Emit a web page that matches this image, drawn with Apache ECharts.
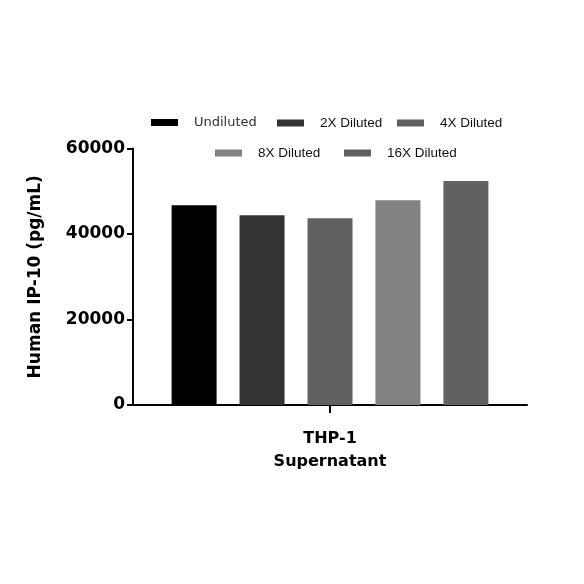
<!DOCTYPE html>
<html>
<head>
<meta charset="utf-8">
<script src="https://cdn.jsdelivr.net/npm/echarts@6/dist/echarts.min.js"></script>
<style>
  html, body { margin: 0; padding: 0; background: #fff; }
  #chart { width: 584px; height: 584px; }
</style>
</head>
<body>
<div id="chart"></div>
<script>
// data
var categories = ["THP-1\nSupernatant"];
var seriesNames = ["Undiluted", "2X Diluted", "4X Diluted", "8X Diluted", "16X Diluted"];
var seriesValues = [46700, 44400, 43700, 47900, 52400];
var seriesColors = ["#000000", "#333333", "#606060", "#828282", "#616161"];
var yTicks = [0, 20000, 40000, 60000];

// legend placement (swatch left, row centre)
var legendPos = [[151, 123], [277, 123], [397, 123], [215, 153], [344, 153]];

var myChart = echarts.init(document.getElementById("chart"));

var legends = seriesNames.map(function (name, i) {
  return {
    data: [name],
    left: legendPos[i][0],
    top: legendPos[i][1] - 7,
    padding: 0,
    itemWidth: 27,
    itemHeight: 7,
    icon: "rect",
    textStyle: {
      fontFamily: i === 0 ? "DejaVu Sans" : "Liberation Sans",
      fontSize: i === 0 ? 13 : 13.5,
      color: i === 0 ? "#333" : "#111",
      padding: i === 0 ? [2, 0, 0, 11] : [0, 0, 0, 11]
    }
  };
});

var series = seriesNames.map(function (name, i) {
  return {
    name: name,
    type: "bar",
    data: [seriesValues[i]],
    barWidth: 45,
    barGap: "51%",
    itemStyle: { color: seriesColors[i] }
  };
});

myChart.setOption({
  animation: false,
  legend: legends,
  grid: { left: 133, right: 57, top: 148.5, bottom: 179 },
  xAxis: {
    type: "category",
    data: categories,
    axisLine: { lineStyle: { color: "#000", width: 2 } },
    axisTick: { show: true, interval: 0, alignWithLabel: true, length: 8, lineStyle: { color: "#000", width: 2 } },
    axisLabel: {
      margin: 22,
      color: "#000",
      fontFamily: "DejaVu Sans",
      fontWeight: "bold",
      fontSize: 16,
      lineHeight: 23
    }
  },
  yAxis: {
    type: "value",
    min: yTicks[0],
    max: yTicks[yTicks.length - 1],
    interval: yTicks[1] - yTicks[0],
    name: "Human IP-10 (pg/mL)",
    nameLocation: "middle",
    nameGap: 89,
    nameTextStyle: {
      color: "#000",
      fontFamily: "DejaVu Sans",
      fontWeight: "bold",
      fontSize: 17
    },
    axisLine: { show: true, lineStyle: { color: "#000", width: 2 } },
    axisTick: { show: true, length: 6, lineStyle: { color: "#000", width: 2 } },
    splitLine: { show: false },
    axisLabel: {
      margin: 8,
      color: "#000",
      fontFamily: "DejaVu Sans",
      fontWeight: "bold",
      fontSize: 17,
      formatter: function (v) { return String(v); }
    }
  },
  series: series
});
</script>
</body>
</html>
